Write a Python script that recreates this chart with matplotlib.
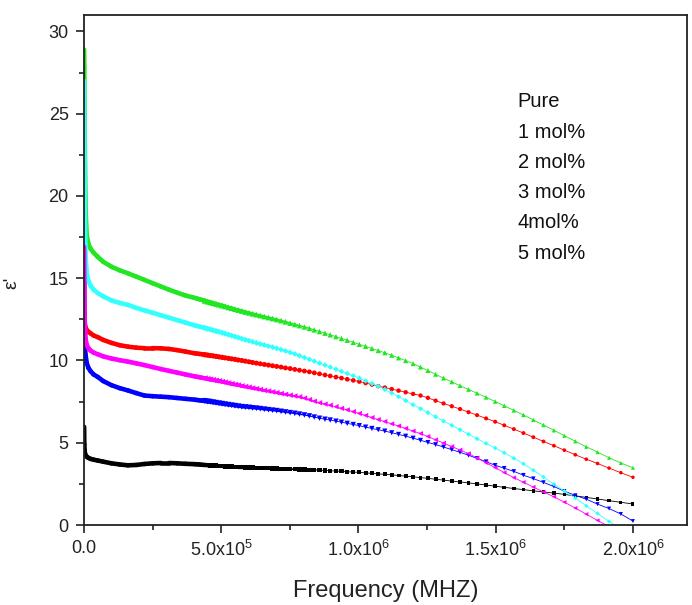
import numpy as np
import matplotlib
matplotlib.use("Agg")
import matplotlib.pyplot as plt
from matplotlib.collections import LineCollection
from matplotlib.ticker import MultipleLocator, FixedLocator

plt.rcParams['font.family'] = ['Liberation Sans', 'DejaVu Sans']
plt.rcParams['mathtext.fontset'] = 'custom'
plt.rcParams['mathtext.rm'] = 'Liberation Sans'
plt.rcParams['mathtext.it'] = 'Liberation Sans:italic'

# ---------------- data ----------------
# frequency in units of 1e6 Hz
freq_mhz = [
    0.0003, 0.001, 0.003, 0.006, 0.010, 0.016, 0.024, 0.035, 0.050, 0.070,
    0.100, 0.130, 0.160, 0.190, 0.220, 0.250, 0.280, 0.310, 0.340, 0.370,
    0.402, 0.411, 0.421, 0.430, 0.440, 0.450, 0.460, 0.470, 0.481, 0.492,
    0.503, 0.514, 0.526, 0.538, 0.550, 0.562, 0.575, 0.588, 0.601,
    0.614, 0.628, 0.642, 0.657, 0.672, 0.687, 0.702,
    0.718, 0.734, 0.751, 0.768, 0.785, 0.803,
    0.821, 0.839, 0.858, 0.878, 0.897,
    0.918, 0.938, 0.959, 0.981, 1.003,
    1.026, 1.049, 1.072, 1.096, 1.121, 1.146, 1.172, 1.199,
    1.226, 1.253, 1.281, 1.310, 1.340, 1.370,
    1.401, 1.432, 1.465, 1.498, 1.531, 1.566, 1.601,
    1.637, 1.674, 1.712, 1.750, 1.790, 1.830, 1.871, 1.913, 1.956, 2.000,
]

eps_pure = [
    5.97, 4.90, 4.40, 4.25, 4.15, 4.08, 4.02, 3.97, 3.92, 3.85,
    3.75, 3.68, 3.63, 3.65, 3.71, 3.75, 3.77, 3.77, 3.75, 3.72,
    3.70, 3.69, 3.68, 3.66, 3.65, 3.64, 3.63, 3.61, 3.60, 3.59,
    3.58, 3.56, 3.55, 3.54, 3.53, 3.52, 3.52, 3.51, 3.50,
    3.49, 3.48, 3.47, 3.46, 3.45, 3.44, 3.43,
    3.42, 3.41, 3.40, 3.39, 3.38, 3.37,
    3.36, 3.35, 3.34, 3.32, 3.30,
    3.28, 3.26, 3.24, 3.22, 3.20,
    3.17, 3.14, 3.11, 3.08, 3.05, 3.01, 2.97, 2.93,
    2.88, 2.84, 2.78, 2.73, 2.67, 2.62,
    2.56, 2.50, 2.43, 2.36, 2.29, 2.22, 2.15,
    2.08, 2.01, 1.94, 1.86, 1.77, 1.68, 1.58, 1.48, 1.38, 1.28,
]

eps_1mol = [
    13.00, 12.60, 12.20, 12.00, 11.85, 11.75, 11.65, 11.52, 11.42, 11.25,
    11.07, 10.93, 10.84, 10.78, 10.75, 10.75, 10.74, 10.70, 10.63, 10.54,
    10.44, 10.42, 10.40, 10.38, 10.35, 10.33, 10.30, 10.28, 10.25, 10.22,
    10.19, 10.16, 10.13, 10.10, 10.07, 10.03, 10.00, 9.96, 9.92,
    9.88, 9.84, 9.80, 9.76, 9.72, 9.68, 9.64,
    9.60, 9.55, 9.51, 9.46, 9.41, 9.36,
    9.31, 9.25, 9.19, 9.12, 9.06,
    8.99, 8.93, 8.86, 8.79, 8.72,
    8.63, 8.54, 8.44, 8.35, 8.26, 8.17, 8.07, 7.97,
    7.87, 7.73, 7.56, 7.39, 7.22, 7.05,
    6.86, 6.68, 6.48, 6.28, 6.06, 5.83, 5.59,
    5.34, 5.08, 4.82, 4.55, 4.27, 4.00, 3.74, 3.46, 3.18, 2.90,
]

eps_2mol = [
    28.90, 27.80, 23.00, 19.00, 17.60, 17.10, 16.80, 16.55, 16.30, 16.00,
    15.70, 15.48, 15.30, 15.10, 14.90, 14.70, 14.50, 14.30, 14.12, 13.95,
    13.81, 13.77, 13.72, 13.68, 13.63, 13.58, 13.54, 13.49, 13.44, 13.39,
    13.34, 13.29, 13.23, 13.18, 13.12, 13.07, 13.01, 12.95, 12.90,
    12.84, 12.79, 12.73, 12.67, 12.61, 12.55, 12.49,
    12.42, 12.35, 12.27, 12.19, 12.12, 12.04,
    11.95, 11.86, 11.76, 11.66, 11.56,
    11.45, 11.34, 11.23, 11.10, 10.98,
    10.86, 10.73, 10.60, 10.47, 10.32, 10.16, 9.99, 9.81,
    9.60, 9.39, 9.16, 8.93, 8.70, 8.47,
    8.24, 8.01, 7.76, 7.51, 7.25, 6.97, 6.69,
    6.39, 6.08, 5.76, 5.43, 5.09, 4.76, 4.43, 4.09, 3.77, 3.48,
]

eps_3mol = [
    16.50, 12.80, 10.90, 10.30, 9.85, 9.55, 9.35, 9.15, 9.00, 8.75,
    8.50, 8.32, 8.18, 8.02, 7.87, 7.83, 7.80, 7.77, 7.72, 7.67,
    7.62, 7.60, 7.58, 7.56, 7.54, 7.51, 7.49, 7.46, 7.43, 7.40,
    7.37, 7.34, 7.31, 7.28, 7.25, 7.22, 7.19, 7.17, 7.15,
    7.12, 7.10, 7.07, 7.04, 7.01, 6.98, 6.95,
    6.91, 6.87, 6.83, 6.79, 6.74, 6.69,
    6.63, 6.56, 6.49, 6.43, 6.38,
    6.31, 6.25, 6.18, 6.11, 6.04,
    5.95, 5.87, 5.79, 5.71, 5.61, 5.51, 5.40, 5.28,
    5.15, 5.02, 4.89, 4.74, 4.58, 4.42,
    4.24, 4.05, 3.85, 3.63, 3.45, 3.26, 3.03,
    2.82, 2.59, 2.34, 2.06, 1.80, 1.57, 1.27, 1.00, 0.67, 0.24,
]

eps_4mol = [
    27.00, 24.50, 19.00, 16.30, 15.30, 14.85, 14.55, 14.30, 14.10, 13.90,
    13.65, 13.50, 13.38, 13.20, 13.05, 12.90, 12.75, 12.60, 12.45, 12.30,
    12.14, 12.10, 12.06, 12.02, 11.98, 11.93, 11.89, 11.84, 11.79, 11.74,
    11.69, 11.63, 11.57, 11.51, 11.45, 11.39, 11.32, 11.26, 11.20,
    11.14, 11.07, 11.01, 10.94, 10.87, 10.81, 10.74,
    10.66, 10.58, 10.49, 10.40, 10.29, 10.18,
    10.07, 9.96, 9.84, 9.72, 9.60,
    9.47, 9.34, 9.21, 9.07, 8.93,
    8.76, 8.60, 8.43, 8.24, 8.02, 7.80, 7.56, 7.31,
    7.07, 6.83, 6.58, 6.32, 6.06, 5.79,
    5.52, 5.24, 4.96, 4.68, 4.39, 4.06, 3.72,
    3.33, 2.92, 2.48, 2.06, 1.64, 1.16, 0.70, 0.22, -0.24, -0.70,
]

eps_5mol = [
    16.90, 14.50, 12.20, 11.30, 10.95, 10.75, 10.60, 10.48, 10.38, 10.25,
    10.12, 10.02, 9.93, 9.83, 9.72, 9.60, 9.48, 9.37, 9.26, 9.15,
    9.04, 9.01, 8.98, 8.95, 8.92, 8.88, 8.85, 8.82, 8.78, 8.75,
    8.71, 8.67, 8.62, 8.58, 8.54, 8.50, 8.45, 8.41, 8.37,
    8.32, 8.28, 8.23, 8.18, 8.14, 8.09, 8.04,
    7.99, 7.94, 7.89, 7.84, 7.79, 7.71,
    7.62, 7.52, 7.43, 7.35, 7.28,
    7.19, 7.09, 7.00, 6.89, 6.78,
    6.66, 6.53, 6.41, 6.29, 6.15, 6.02, 5.87, 5.71,
    5.56, 5.38, 5.18, 4.98, 4.77, 4.56,
    4.34, 4.07, 3.78, 3.49, 3.19, 2.88, 2.60,
    2.31, 2.01, 1.72, 1.39, 1.03, 0.66, 0.28, -0.10, -0.50, -0.90,
]

labels = ["Pure", "1 mol%", "2 mol%", "3 mol%", "4mol%", "5 mol%"]
x_ticks = [0.0, 5.0e5, 1.0e6, 1.5e6, 2.0e6]
x_tick_labels = ["0.0", r"5.0x10$^{5}$", r"1.0x10$^{6}$", r"1.5x10$^{6}$", r"2.0x10$^{6}$"]
y_ticks = [0, 5, 10, 15, 20, 25, 30]

# ---------------- styles ----------------
series = [eps_pure, eps_1mol, eps_2mol, eps_3mol, eps_4mol, eps_5mol]
colors = ["#000000", "#ff0000", "#22e622", "#0000ff", "#33ffff", "#ff00ff"]
markers = ["s", "o", "^", "v", "D", "<"]
area_scale = {"s": 0.8, "o": 1.0, "^": 1.3, "v": 1.3, "D": 0.7, "<": 1.3}

freq = np.array(freq_mhz) * 1e6

fig = plt.figure(figsize=(6.92, 6.05), dpi=100)
ax = fig.add_axes([0.1214, 0.1322, 0.8714, 0.843])

split = int(np.searchsorted(freq, 0.45e6)) - 1   # markers start here
f_mk = freq[split:]
# marker size shrinks towards high frequency, as in the reference
ms = 3.8 - 1.3 * (f_mk - f_mk[0]) / (f_mk[-1] - f_mk[0])
# line width: thick band at low frequency tapering to a thin connector
f_mid = 0.5 * (freq[1:] + freq[:-1])
seg_lw = np.clip(3.3 - 2.7 * (f_mid - 0.42e6) / 0.45e6, 0.6, 3.3)

for i in range(len(series)):
    y = np.array(series[i])
    c = colors[i]
    z = 2 + i * 0.1
    pts = np.column_stack([freq, y])
    segs = np.stack([pts[:-1], pts[1:]], axis=1)
    lc = LineCollection(segs, linewidths=seg_lw, colors=c, capstyle='round',
                        joinstyle='round', zorder=z)
    ax.add_collection(lc)
    ax.scatter(f_mk, y[split:], s=ms ** 2 * area_scale[markers[i]],
               marker=markers[i], color=c, linewidths=0, zorder=z + 0.05)

ax.set_xlim(0, 2.197e6)
ax.set_ylim(0, 31)

ax.xaxis.set_major_locator(FixedLocator(x_ticks))
ax.set_xticklabels(x_tick_labels)
ax.xaxis.set_minor_locator(MultipleLocator(2.5e5))
ax.yaxis.set_major_locator(FixedLocator(y_ticks))
ax.yaxis.set_minor_locator(MultipleLocator(2.5))

ax.tick_params(which='both', direction='out', top=False, right=False, width=1.2,
               labelsize=13, colors='#222222')
ax.tick_params(which='major', length=6)
ax.tick_params(which='minor', length=3.5)
ax.tick_params(axis='x', pad=5)
ax.tick_params(axis='y', pad=5)
for sp in ax.spines.values():
    sp.set_linewidth(1.3)
    sp.set_color('#222222')

ax.set_xlabel("Frequency (MHZ)", fontsize=17, labelpad=14, color='#222222')
ax.set_ylabel("\u03b5'", fontsize=14, color='#222222')
ax.yaxis.set_label_coords(-0.105, 0.475)

# legend-like text block (no symbols shown in the reference)
for k, lab in enumerate(labels):
    ax.text(0.719, 0.830 - 0.0594 * k, lab, transform=ax.transAxes,
            fontsize=14.5, va='center', ha='left', color='#111111')

fig.savefig("out.png", dpi=100)
